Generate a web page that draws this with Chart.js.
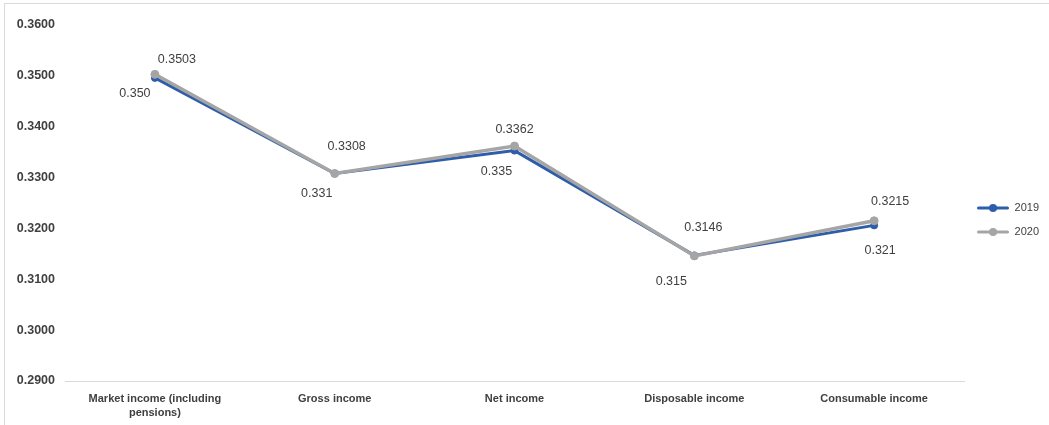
<!DOCTYPE html>
<html>
<head>
<meta charset="utf-8">
<script src="https://cdn.jsdelivr.net/npm/chart.js@4.4.1/dist/chart.umd.min.js"></script>
<style>
  html, body { margin: 0; padding: 0; background: #fff; overflow: hidden; }
  #wrap { position: absolute; left: 0; top: 0; width: 1049px; height: 425px; }
  #frame { position: absolute; left: 4px; top: 3px; width: 1045px; height: 422px; border-left: 1px solid #d9d9d9; border-top: 1px solid #d9d9d9; box-sizing: border-box; pointer-events: none; }
</style>
</head>
<body>
<div id="frame"></div>
<div id="wrap"><canvas id="c" width="1049" height="425"></canvas></div>
<script>
const categories = [["Market income (including", "pensions)"], "Gross income", "Net income", "Disposable income", "Consumable income"];
const series2019 = [0.3496, 0.3308, 0.3353, 0.3147, 0.3206];
const series2020 = [0.3503, 0.3308, 0.3362, 0.3146, 0.3215];
const yTicks = [0.29, 0.30, 0.31, 0.32, 0.33, 0.34, 0.35, 0.36];

const BLUE = '#2E5DAA';
const GRAY = '#A5A5A5';
const TEXT = '#404040';

// label offsets (style only): [dx, dy] from point to label centre
const labelOffsets = {
  0: [[-20, 16], [-18, 20], [-18, 21], [-23, 26], [6, 25]],
  1: [[22, -15], [12, -27], [0, -16], [9, -28], [16, -19]]
};
const labelDigits = { 0: 3, 1: 4 };

function legendIcon(color) {
  const cv = document.createElement('canvas');
  cv.width = 32; cv.height = 10;
  const g = cv.getContext('2d');
  g.strokeStyle = color; g.lineWidth = 3; g.lineCap = 'round';
  g.beginPath(); g.moveTo(1.5, 5); g.lineTo(30.5, 5); g.stroke();
  g.fillStyle = color;
  g.beginPath(); g.arc(16, 5, 4, 0, Math.PI * 2); g.fill();
  return cv;
}
const icons = [legendIcon(BLUE), legendIcon(GRAY)];

const dataLabelPlugin = {
  id: 'pointLabels',
  afterDatasetsDraw(chart) {
    const ctx = chart.ctx;
    ctx.save();
    ctx.font = '12.5px "Liberation Sans", Arial, sans-serif';
    ctx.fillStyle = TEXT;
    ctx.textAlign = 'center';
    ctx.textBaseline = 'middle';
    chart.data.datasets.forEach((ds, di) => {
      const meta = chart.getDatasetMeta(di);
      meta.data.forEach((pt, i) => {
        const off = labelOffsets[di][i];
        ctx.fillText(ds.data[i].toFixed(labelDigits[di]), pt.x + off[0], pt.y + off[1]);
      });
    });
    ctx.restore();
  }
};

new Chart(document.getElementById('c'), {
  type: 'line',
  data: {
    labels: categories,
    datasets: [
      { label: '2019', data: series2019, borderColor: BLUE, backgroundColor: BLUE, borderWidth: 3,
        pointRadius: 3.5, pointBackgroundColor: BLUE, pointBorderColor: BLUE, pointBorderWidth: 1, tension: 0, order: 1 },
      { label: '2020', data: series2020, borderColor: GRAY, backgroundColor: GRAY, borderWidth: 3.5,
        pointRadius: 4, pointBackgroundColor: GRAY, pointBorderColor: GRAY, pointBorderWidth: 1, tension: 0, order: 0 }
    ]
  },
  options: {
    responsive: false,
    animation: false,
    devicePixelRatio: 1,
    layout: { padding: { left: 15, top: 15, bottom: 0, right: 0 } },
    plugins: {
      tooltip: { enabled: false },
      title: { display: true, text: '', padding: 0, font: { size: 10, lineHeight: 1 } },
      legend: {
        position: 'right',
        labels: {
          usePointStyle: true,
          pointStyleWidth: 32,
          padding: 13,
          color: TEXT,
          font: { family: '"Liberation Sans", Arial, sans-serif', size: 11 },
          sort: (a, b) => a.datasetIndex - b.datasetIndex,
          generateLabels(chart) {
            const items = Chart.defaults.plugins.legend.labels.generateLabels(chart);
            items.forEach(it => { it.pointStyle = icons[it.datasetIndex]; });
            return items;
          }
        }
      }
    },
    scales: {
      x: {
        offset: true,
        grid: { display: false, drawTicks: false },
        border: { display: true, color: '#d9d9d9', width: 1 },
        ticks: {
          color: TEXT, padding: 11, maxRotation: 0, autoSkip: false,
          font: { family: '"Liberation Sans", Arial, sans-serif', size: 11, weight: 'bold', lineHeight: 1.3 }
        },
        afterFit(s) { s.height = 44; }
      },
      y: {
        min: 0.29, max: 0.36,
        afterBuildTicks(s) { s.ticks = yTicks.map(v => ({ value: v })); },
        grid: { display: false, drawTicks: false },
        border: { display: false },
        ticks: {
          color: TEXT, padding: 10,
          font: { family: '"Liberation Sans", Arial, sans-serif', size: 12.5, weight: 'bold' },
          callback: v => Number(v).toFixed(4)
        },
        afterFit(s) { s.width = 50; }
      }
    }
  },
  plugins: [dataLabelPlugin]
});
</script>
</body>
</html>
